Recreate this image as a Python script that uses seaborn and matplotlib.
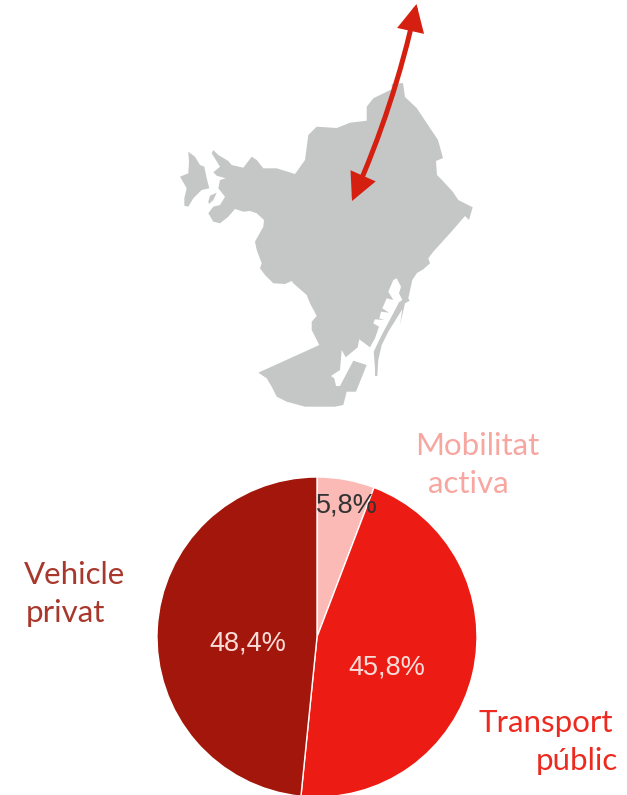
import matplotlib
matplotlib.use('Agg')
import matplotlib.pyplot as plt
from matplotlib.patches import FancyArrowPatch, Polygon
import seaborn as sns

# pie data
categories = ['Mobilitat activa', 'Transport públic', 'Vehicle privat']
values = [5.8, 45.8, 48.4]
pie_colors = ['#fbbab5', '#ec1c14', '#a3160b']
pct_colors = ['#333333', '#f9dcd8', '#f9dcd8']

W, H = 627, 795

# map outline, picture pixels (x, y from the top)
city = [(391.7, 84), (403, 83), (405, 97), (416.7, 108), (428, 125), (438, 140), (443, 158),
        (436, 161), (437, 175), (442, 180), (453, 192), (458.3, 200), (472.7, 207.3), (469, 220),
        (465, 216), (450, 233.3), (433.3, 251.7), (428.3, 258.3), (430, 263.3), (423.3, 269.3),
        (417, 273), (412.3, 280), (408.3, 298.3), (409.7, 300.7), (405, 303.3), (400, 325),
        (402.3, 309.3), (388.3, 331.7), (381.7, 345), (378.3, 360), (377.3, 376), (375, 376),
        (375, 368.3), (373.7, 351.7), (381.7, 335), (393.3, 313.3), (399, 302.3), (402.3, 300),
        (399, 293.3), (401, 286.7), (396.7, 278.3), (393.3, 280), (388.3, 291.7), (393.3, 300),
        (386.7, 298.3), (382.3, 308.3), (389, 312.7), (381, 311.7), (379.3, 318.3), (384.3, 320),
        (375, 319.3), (373.3, 323.3), (379, 326.7), (375, 338.3), (370, 347.3), (359.3, 339.3),
        (357.7, 347.3), (345.7, 357.3), (341.7, 350), (340, 370), (331, 376), (334.3, 378.3),
        (336, 386), (340, 386), (353.3, 360.7), (366.7, 365), (356, 391.7), (346.7, 391.7),
        (343.3, 405), (335, 406.7), (305, 406.7), (286.7, 401.7), (276.7, 396.7), (271.7, 386.7),
        (266.7, 378.3), (258.3, 372.7), (319.3, 345), (311.7, 330), (311.7, 321.7), (316.7, 316),
        (310, 303.3), (306.7, 295), (293.3, 283.3), (291.7, 281), (285, 284), (273.3, 283.3),
        (265, 275), (260, 268.3), (261.7, 263.3), (256.7, 250), (255, 241.7), (263.3, 226.7),
        (264, 220), (256.7, 213.3), (250, 211), (243.3, 211.7), (235, 209), (228.3, 216.7),
        (220, 223.3), (213.3, 221.7), (208.3, 213.3), (213.3, 206.7), (220, 205), (225, 196.7),
        (218.3, 188.3), (220, 180), (225.7, 178.3), (216.7, 175.7), (213.3, 172.3), (220, 166.7),
        (211.7, 153.3), (213.3, 150), (218.3, 155), (228.3, 161), (231.7, 165), (243.3, 167.7),
        (251.7, 156.7), (256.7, 160), (263.3, 168.3), (276.7, 168.3), (295, 174), (305, 160),
        (308.3, 135), (316.7, 126.7), (336.7, 128), (350, 122.7), (366.7, 120.7), (366.7, 106.7),
        (373.3, 98.3), (391.7, 89.3)]
island = [(188.3, 151.7), (195, 156.7), (200, 165), (204.3, 166.7), (206.7, 178.3), (209.3, 188.3),
          (201.7, 190), (193.3, 198.3), (188.3, 206.7), (184.3, 205.7), (184.3, 198.3),
          (186.7, 188.3), (180, 176.7), (188.3, 173.3), (189, 161.7)]
islet = [(208.3, 201.7), (210, 195.7), (216.7, 192.7), (213.3, 200), (209, 204)]

sns.set_theme(style='white')
plt.rcParams['font.family'] = ['Liberation Sans', 'DejaVu Sans']


def up(pts):
    return [(x, H - y) for x, y in pts]


fig = plt.figure(figsize=(W / 100, H / 100), dpi=100)
ax = fig.add_axes([0, 0, 1, 1])

for shape in (city, island, islet):
    ax.add_patch(Polygon(up(shape), closed=True, fc='#c5c7c6', ec='none'))

# double arrow
ax.add_patch(FancyArrowPatch((352, H - 201), (416.5, H - 4),
                             connectionstyle='arc3,rad=0.05',
                             arrowstyle='<|-|>,head_length=14,head_width=7',
                             mutation_scale=1, lw=3.6, color='#d41f11',
                             shrinkA=0, shrinkB=0, joinstyle='miter'))

# pie
palette = sns.color_palette(pie_colors)
wedges, texts, pcts = ax.pie(values, colors=palette, startangle=90, counterclock=False,
                             center=(317, H - 637), radius=160, frame=True,
                             wedgeprops={'edgecolor': 'white', 'linewidth': 1.0},
                             autopct=lambda p: f'{p:.1f}%'.replace('.', ','),
                             textprops={'fontsize': 19.5})
pct_pos = [(347, 505), (387, 667), (248, 644)]
for t, c, (x, y) in zip(pcts, pct_colors, pct_pos):
    t.set_color(c)
    t.set_position((x, H - y))
    t.set_ha('center')
    t.set_va('center')

ax.set_xlim(0, W)
ax.set_ylim(0, H)
ax.set_aspect('auto')
ax.axis('off')

label_font = {'family': ['Lato', 'DejaVu Sans'], 'fontweight': 'regular', 'fontsize': 22.5}
ax.text(477, H - 446, 'Mobilitat', color='#f7a6a0', ha='center', va='center', **label_font)
ax.text(468, H - 484, 'activa', color='#f7a6a0', ha='center', va='center', **label_font)
ax.text(75, H - 575, 'Vehicle', color='#a8382c', ha='center', va='center', **label_font)
ax.text(65, H - 613, 'privat', color='#a8382c', ha='center', va='center', **label_font)
ax.text(546, H - 723, 'Transport', color='#ec2a20', ha='center', va='center', **label_font)
ax.text(577, H - 761, 'públic', color='#ec2a20', ha='center', va='center', **label_font)

fig.savefig('out.png', dpi=100)
